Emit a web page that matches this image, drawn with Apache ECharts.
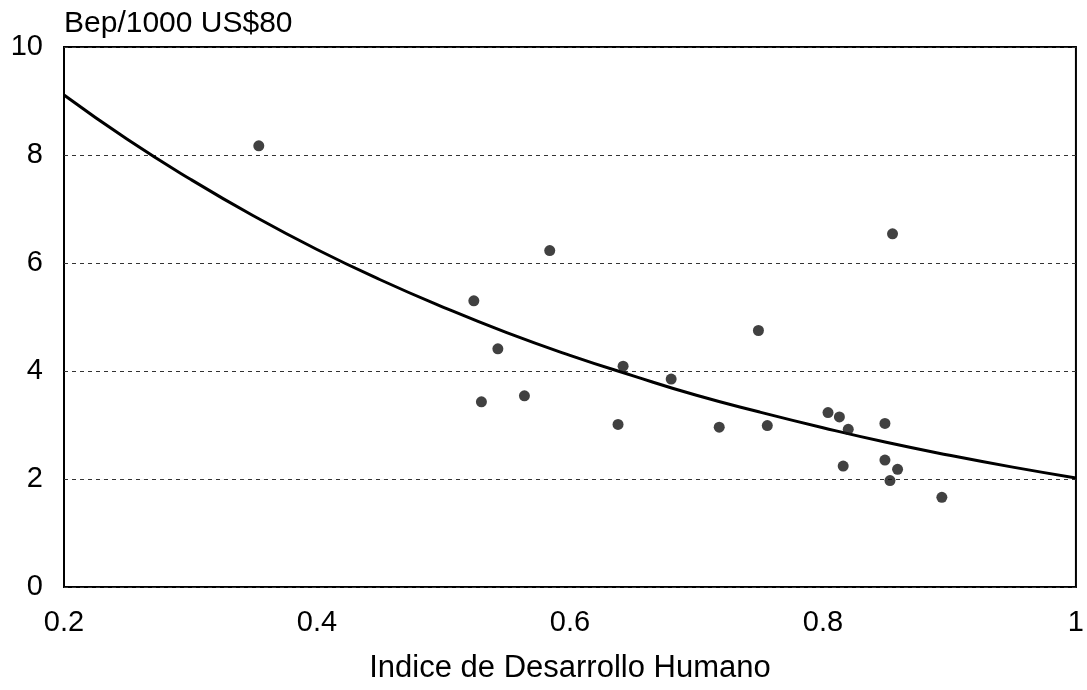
<!DOCTYPE html>
<html>
<head>
<meta charset="utf-8">
<script src="https://cdn.jsdelivr.net/npm/echarts@6/dist/echarts.min.js"></script>
<style>
html,body{margin:0;padding:0;background:#fff;}
#chart{width:1087px;height:690px;}
</style>
</head>
<body>
<div id="chart"></div>
<script>
// Scatter points: Indice de Desarrollo Humano vs Bep/1000 US$80
const idhValues = [0.354, 0.524, 0.530, 0.543, 0.564, 0.584, 0.638, 0.642, 0.680, 0.718, 0.749, 0.756,
                   0.804, 0.813, 0.816, 0.820, 0.849, 0.849, 0.855, 0.853, 0.859, 0.894];
const bepValues = [8.17, 5.30, 3.43, 4.41, 3.54, 6.23, 3.01, 4.09, 3.85, 2.96, 4.75, 2.99,
                   3.23, 3.15, 2.24, 2.92, 3.03, 2.35, 6.54, 1.97, 2.18, 1.66];
// Fitted curve
const curveX = [0.2, 0.25, 0.3, 0.35, 0.4, 0.45, 0.5, 0.55, 0.6, 0.65, 0.7, 0.75, 0.8, 0.85, 0.9, 0.95, 1.0];
const curveY = [9.11, 8.29, 7.55, 6.87, 6.25, 5.69, 5.18, 4.71, 4.29, 3.91, 3.55, 3.24, 2.95, 2.68, 2.44, 2.22, 2.02];
const xTickLabels = {"0.2":"0.2","0.4":"0.4","0.6":"0.6","0.8":"0.8","1":"1"};
const yAxisTitle = "Bep/1000 US$80";
const xAxisTitle = "Indice de Desarrollo Humano";

const FONT = "'Liberation Sans', Arial, Helvetica, sans-serif";
const chart = echarts.init(document.getElementById('chart'), null, {renderer: 'canvas'});
chart.setOption({
  animation: false,
  backgroundColor: '#ffffff',
  grid: {left: 64, right: 5, top: 47, bottom: 103, show: true, borderColor: '#000', borderWidth: 2, backgroundColor: 'transparent'},
  xAxis: {
    type: 'value', min: 0.2, max: 1, interval: 0.2,
    name: xAxisTitle, nameLocation: 'middle', nameGap: 66,
    nameTextStyle: {fontFamily: FONT, fontSize: 31, color: '#000'},
    axisLine: {show: false}, axisTick: {show: false},
    splitLine: {show: false},
    axisLabel: {fontFamily: FONT, fontSize: 29, color: '#000', margin: 21,
      formatter: v => { const k = String(Math.round(v * 10) / 10); return xTickLabels[k] !== undefined ? xTickLabels[k] : k; }}
  },
  yAxis: {
    type: 'value', min: 0, max: 10, interval: 2,
    name: yAxisTitle, nameLocation: 'end', nameGap: 23,
    nameTextStyle: {fontFamily: FONT, fontSize: 30, color: '#000', align: 'left', verticalAlign: 'middle'},
    axisLine: {show: false}, axisTick: {show: false},
    axisLabel: {fontFamily: FONT, fontSize: 29, color: '#000', margin: 21},
    splitLine: {show: true, lineStyle: {color: '#333', width: 1, type: [4, 4]}}
  },
  series: [
    {
      type: 'line', data: curveX.map((x, i) => [x, curveY[i]]),
      smooth: true, showSymbol: false, symbol: 'none',
      lineStyle: {color: '#000', width: 3}, z: 3
    },
    {
      type: 'scatter', data: idhValues.map((x, i) => [x, bepValues[i]]),
      symbol: 'circle', symbolSize: 11,
      itemStyle: {color: '#111'}, z: 4
    }
  ]
});
</script>
</body>
</html>
